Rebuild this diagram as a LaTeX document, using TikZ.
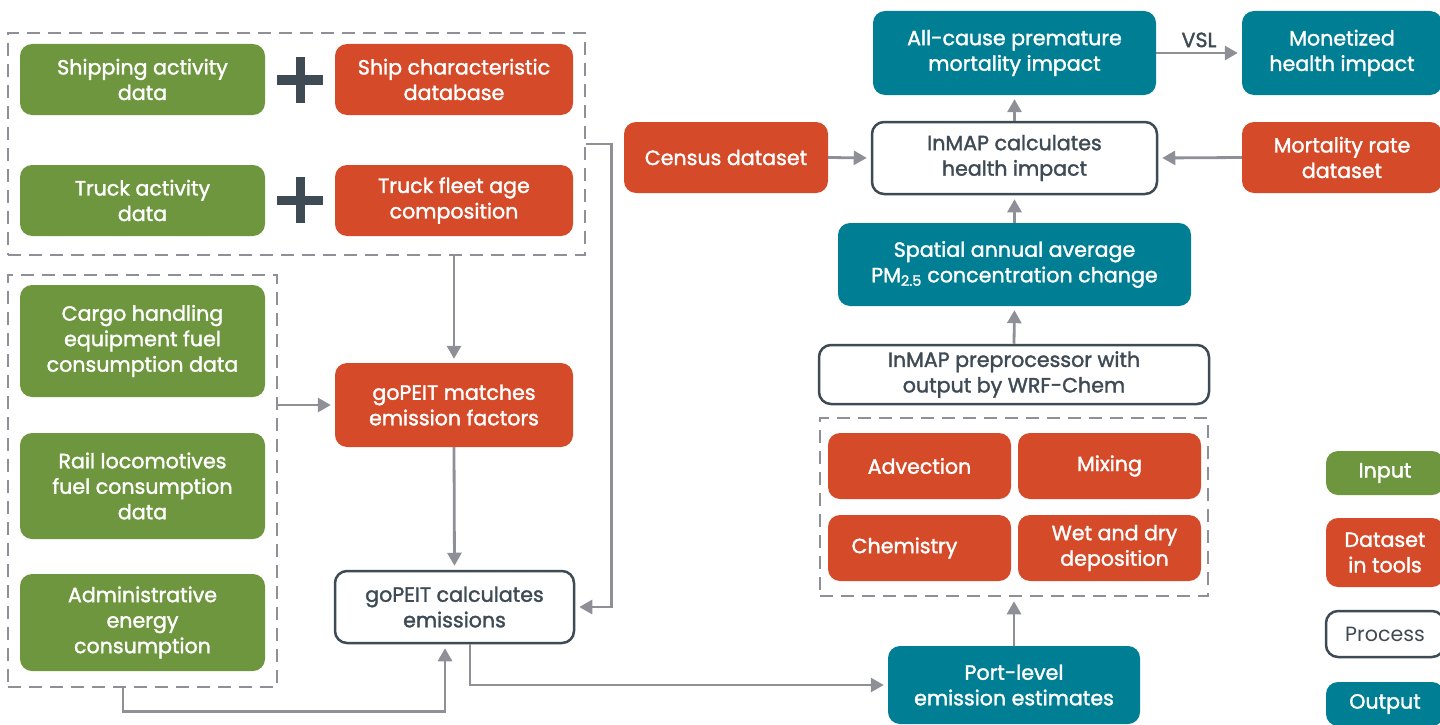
\documentclass[tikz,border=0pt]{standalone}
\usepackage{fontspec}
\setmainfont{Poppins}[FakeBold=1.6]
\newfontfamily\lightfont{Poppins}
\usepackage{xcolor}
\usetikzlibrary{arrows.meta, positioning, calc}
\definecolor{ingreen}{HTML}{6E963E}
\definecolor{dsred}{HTML}{D54A29}
\definecolor{outteal}{HTML}{007E93}
\definecolor{procgray}{HTML}{3E4A54}
\definecolor{linegray}{HTML}{8E8F97}
\tikzstyle{inbox} = [rectangle, rounded corners=12pt, fill=ingreen, text=white, align=center, inner sep=2pt]
\tikzstyle{databox} = [rectangle, rounded corners=12pt, fill=dsred, text=white, align=center, inner sep=2pt]
\tikzstyle{outbox} = [rectangle, rounded corners=12pt, fill=outteal, text=white, align=center, inner sep=2pt]
\tikzstyle{procbox} = [rectangle, rounded corners=12pt, draw=procgray, line width=2.5pt, fill=white, text=procgray, align=center, inner sep=2pt]
\tikzstyle{group} = [rectangle, draw=linegray, line width=2.5pt, dash pattern=on 13pt off 8pt]
\tikzstyle{arrow} = [line width=2.8pt, draw=linegray, -{Triangle[length=13pt,width=14pt]}, shorten >=4pt]
\tikzstyle{plus} = [line width=9pt, draw=procgray]

\begin{document}
\begin{tikzpicture}[x=1pt, y=-1pt, font=\fontsize{20.6}{25.5}\selectfont]
	\useasboundingbox (0,0) rectangle (1440,725);

	% left: activity data and emission factors
	\node (grp1) [group, minimum width=577pt, minimum height=222pt] at (296.5,144) {};
	\node (grp2) [group, minimum width=269pt, minimum height=412pt] at (142.5,481) {};
	\node (ship) [inbox, minimum width=245pt, minimum height=71pt] at (142.5,79.5) {Shipping activity\\data};
	\node (shipdb) [databox, minimum width=238pt, minimum height=71pt] at (454,79.5) {Ship characteristic\\database};
	\node (truck) [inbox, minimum width=245pt, minimum height=71pt] at (142.5,200.5) {Truck activity\\data};
	\node (truckdb) [databox, minimum width=238pt, minimum height=71pt] at (454,200.5) {Truck fleet age\\composition};
	\draw [plus] (277,80) -- (323,80) (300,57) -- (300,103);
	\draw [plus] (277,200) -- (323,200) (300,177) -- (300,223);
	\node (cargo) [inbox, minimum width=245pt, minimum height=112pt] at (142.5,341) {Cargo handling\\equipment fuel\\consumption data};
	\node (rail) [inbox, minimum width=245pt, minimum height=106pt] at (142.5,486) {Rail locomotives\\fuel consumption\\data};
	\node (admin) [inbox, minimum width=245pt, minimum height=97pt] at (142.5,622.5) {Administrative\\energy\\consumption};
	\node (match) [databox, minimum width=238pt, minimum height=84pt] at (454,405) {goPEIT matches\\emission factors};
	\node (calc) [procbox, minimum width=239pt, minimum height=72pt] at (454.5,607) {goPEIT calculates\\emissions};

	% right: dispersion and health impact
	\node (port) [outbox, minimum width=252pt, minimum height=78pt] at (1014,685) {Port-level\\emission estimates};
	\node (grp3) [group, minimum width=388pt, minimum height=178pt] at (1014,507) {};
	\node (advect) [databox, minimum width=183pt, minimum height=66pt] at (919.5,466) {Advection};
	\node (mixing) [databox, minimum width=183pt, minimum height=66pt] at (1109.5,466) {Mixing};
	\node (chem) [databox, minimum width=183pt, minimum height=66pt] at (919.5,548) {Chemistry\hspace*{30pt}};
	\node (depos) [databox, minimum width=183pt, minimum height=66pt] at (1109.5,548) {\hspace*{10pt}Wet and dry\\\hspace*{10pt}deposition};
	\node (prep) [procbox, minimum width=390pt, minimum height=59pt] at (1014,374.5) {InMAP preprocessor with\\output by WRF-Chem};
	\node (spatial) [outbox, minimum width=353pt, minimum height=83pt] at (1014.5,264.5) {Spatial annual average\\PM\textsubscript{2.5} concentration change};
	\node (health) [procbox, minimum width=285pt, minimum height=72pt] at (1014.5,158) {InMAP calculates\\health impact};
	\node (allcause) [outbox, minimum width=283pt, minimum height=84pt] at (1014.5,53) {All-cause premature\\mortality impact};
	\node (monet) [outbox, minimum width=200pt, minimum height=84pt] at (1342,53) {Monetized\\health impact};
	\node (census) [databox, minimum width=204pt, minimum height=71pt] at (726,157.5) {Census dataset};
	\node (mortrate) [databox, minimum width=200pt, minimum height=71pt] at (1342,157.5) {Mortality rate\\dataset};

	% legend
	\node (leg1) [inbox, minimum width=118pt, minimum height=44pt] at (1385,473) {Input};
	\node (leg2) [databox, minimum width=118pt, minimum height=69pt] at (1385,552.5) {Dataset\\in tools};
	\node (leg3) [procbox, minimum width=118pt, minimum height=46pt, font=\lightfont\fontsize{20.6}{25.5}\selectfont] at (1385,634) {Process};
	\node (leg4) [outbox, minimum width=118pt, minimum height=44pt] at (1385,704) {Output};

	\draw [arrow] (grp1.south -| match.north) -- (match.north);
	\draw [arrow] (grp2.east |- match.west) -- (match.west);
	\draw [arrow] (match.south) -- (calc.north);
	\draw [arrow] (grp1.east) -- ++(25,0) |- (calc.east);
	\draw [arrow] ($(grp2.south)+(-19.5,0)$) -- ++(0,23) -| ($(calc.south)+(-9.5,0)$);
	\draw [arrow] ($(calc.south)+(15.5,0)$) |- (port.west);
	\draw [arrow] (port.north) -- (grp3.south);
	\draw [arrow] (prep.north) -- (spatial.south);
	\draw [arrow] (spatial.north) -- (health.south);
	\draw [arrow] (health.north) -- (allcause.south);
	\draw [arrow] (allcause.east) -- node[above=1pt, text=procgray] {VSL} (monet.west);
	\draw [arrow] (census.east) -- (health.west);
	\draw [arrow] (mortrate.west) -- (health.east);

\end{tikzpicture}
\end{document}
